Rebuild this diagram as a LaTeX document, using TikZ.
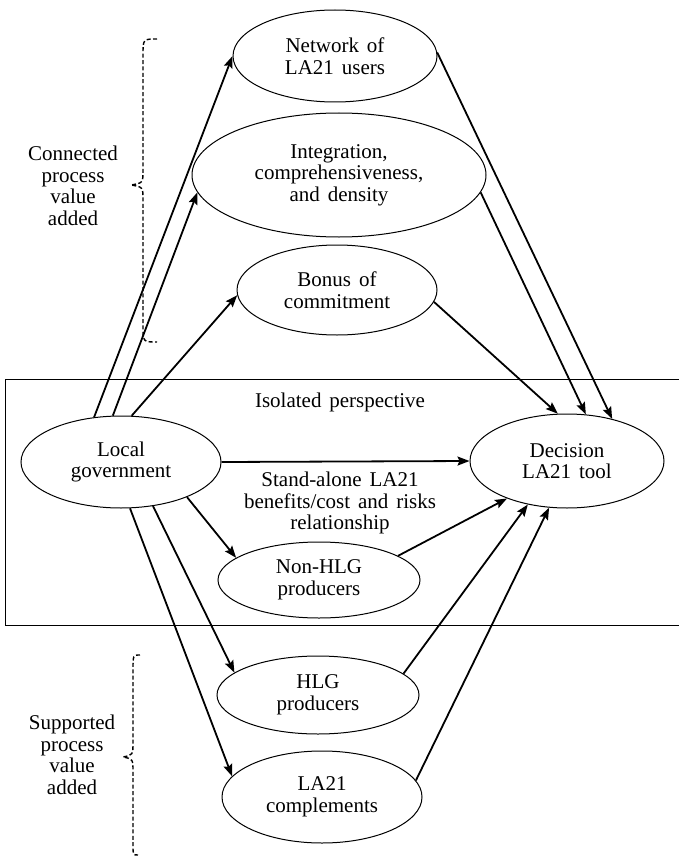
\documentclass[tikz,border=0pt]{standalone}
\usepackage{fontspec}
\setmainfont{Liberation Serif}[WordSpace=1.5]
\usetikzlibrary{shapes.geometric,arrows.meta}
\begin{document}
\begin{tikzpicture}[x=1pt,y=-1pt,
  every node/.style={font=\fontsize{21}{21.5}\selectfont, align=center},
  bub/.style={draw, ellipse, line width=1pt, inner sep=0pt},
  arr/.style={line width=1.8pt, -{Stealth[length=12pt,width=9pt,inset=2pt]}},
  bracestyle/.style={line width=1.4pt, dash pattern=on 4pt off 2.4pt}]
\useasboundingbox (0,0) rectangle (678,856);

% frame of the isolated perspective
\draw[line width=1pt] (700,379) -- (5,379) -- (5,625) -- (700,625);

\node[bub, minimum width=204pt, minimum height=92pt] (net) at (335,56) {Network of\\LA21 users};
\node[bub, minimum width=294pt, minimum height=124pt] (integ) at (339,175) {Integration,\\comprehensiveness,\\and density};
\node[bub, minimum width=200pt, minimum height=90pt] (bonus) at (337,290) {Bonus of\\commitment};
\node[bub, minimum width=200pt, minimum height=92pt] (local) at (121,462) {Local\\government};
\node[bub, minimum width=194pt, minimum height=94pt] (dec) at (567,461) {Decision\\LA21 tool};
\node[bub, minimum width=202pt, minimum height=76pt] (nonhlg) at (319,580) {Non-HLG\\producers};
\node[bub, minimum width=202pt, minimum height=78pt] (hlg) at (318,695) {HLG\\producers};
\node[bub, minimum width=200pt, minimum height=92pt] (comp) at (322,797) {LA21\\complements};

\node (iso) at (340,402) {Isolated perspective};
\node (stand) at (340,503) {Stand-alone LA21\\benefits/cost and risks\\relationship};
\node (conn) at (73,186) {Connected\\process\\value\\added};
\node (supp) at (72,755) {Supported\\process\\value\\added};

% arrows out of local government
\draw[arr] (local.121.5) -- (net.180);
\draw[arr] (local.100.8) -- (integ.187.4);
\draw[arr] (local.77) -- (bonus.183);
\draw[arr] (local.0) -- (dec.180);
\draw[arr] (local.-28.6) -- (nonhlg.165);
\draw[arr] (local.-54) -- (hlg.165);
\draw[arr] (local.-79) -- (comp.167);

% arrows into decision tool
\draw[arr] (net.2) -- (dec.43.5);
\draw[arr] (integ.-7.2) -- (dec.68);
\draw[arr] (bonus.-7) -- (dec.101);
\draw[arr] (nonhlg.17) -- (dec.212);
\draw[arr] (hlg.14.5) -- (dec.228);
\draw[arr] (comp.10) -- (dec.249.4);

% braces
\draw[bracestyle] (157,39) .. controls (143,39) .. (143,55) -- (143,170)
  .. controls (143,183) .. (131,185) .. controls (143,187) .. (143,200)
  -- (143,326) .. controls (143,342) .. (157,342);
\draw[bracestyle] (140,655) .. controls (133,655) .. (133,670) -- (133,742)
  .. controls (133,755) .. (123,757) .. controls (133,759) .. (133,772)
  -- (133,845) .. controls (133,855) .. (138,855);
\end{tikzpicture}
\end{document}
